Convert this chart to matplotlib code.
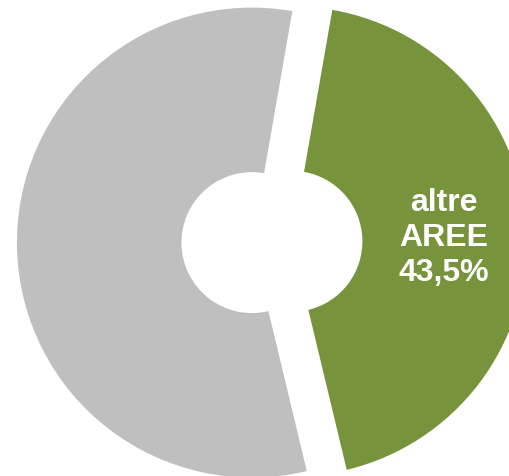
import matplotlib
matplotlib.use("Agg")
import matplotlib.pyplot as plt

# share of the two areas (percent)
labels = ['altre AREE', 'resto']
values = [43.5, 56.5]
colors = ['#77933C', '#BFBFBF']
label_text = 'altre\nAREE\n43,5%'

fig = plt.figure(figsize=(5.10, 4.77), dpi=100)
ax = fig.add_axes([0, 0, 1, 1])

wedges, _ = ax.pie(values, colors=colors, startangle=-76.5, counterclock=True,
                   explode=[0.085, 0.085], radius=1.0,
                   wedgeprops=dict(width=0.70, linewidth=0))

# label inside the green slice
ax.text(0.733, 0.021, label_text, color='white', fontsize=23, fontweight='bold',
        family=['Liberation Sans', 'DejaVu Sans'], ha='center', va='center',
        linespacing=1.22)

ax.set_xlim(-1.157, 1.013)
ax.set_ylim(-0.996, 1.034)
ax.set_aspect('auto')
ax.axis('off')

fig.savefig('out.png', dpi=100, facecolor='white')
